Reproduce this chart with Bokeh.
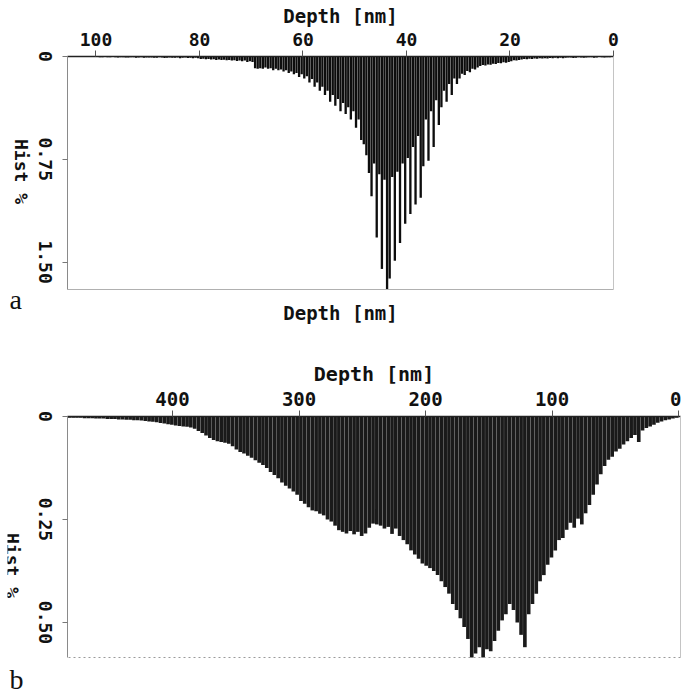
import math
from bokeh.plotting import figure
from bokeh.models import Range1d, FixedTicker, LinearAxis, Label
from bokeh.embed import file_html
from bokeh.resources import INLINE

# ---------------- data ----------------
x_title = "Depth [nm]"
y_title = "Hist %"

# panel a: histogram, 0.5 nm bins starting at 0 nm
a_bin_width = 0.5
a_depth_max = 105.5
a_hist_max = 1.70
a_hist = [
    # 0-10 nm
    0.004, 0.006, 0.005, 0.008, 0.006, 0.004, 0.007, 0.009, 0.006, 0.005,
    0.008, 0.010, 0.007, 0.006, 0.009, 0.011, 0.008, 0.007, 0.010, 0.012,
    # 10-20 nm
    0.010, 0.012, 0.009, 0.013, 0.011, 0.014, 0.012, 0.015, 0.013, 0.016,
    0.015, 0.018, 0.016, 0.020, 0.018, 0.022, 0.025, 0.030, 0.028, 0.035,
    # 20-30 nm
    0.040, 0.045, 0.042, 0.050, 0.048, 0.055, 0.052, 0.060, 0.058, 0.065,
    0.062, 0.070, 0.080, 0.095, 0.090, 0.115, 0.105, 0.135, 0.125, 0.160,
    # 30-40 nm
    0.200, 0.160, 0.280, 0.200, 0.330, 0.250, 0.370, 0.500, 0.320, 0.660,
    0.400, 0.760, 0.460, 0.800, 1.030, 0.580, 1.080, 0.660, 1.150, 0.740,
    # 40-50 nm
    1.220, 0.780, 1.360, 0.840, 1.490, 0.880, 1.620, 1.700, 0.900, 1.550,
    0.860, 1.320, 0.780, 1.020, 0.850, 0.720, 0.640, 0.610, 0.460, 0.520,
    # 50-60 nm
    0.400, 0.460, 0.370, 0.420, 0.340, 0.400, 0.310, 0.360, 0.280, 0.330,
    0.250, 0.280, 0.220, 0.250, 0.190, 0.220, 0.165, 0.190, 0.145, 0.160,
    # 60-70 nm
    0.130, 0.150, 0.120, 0.130, 0.110, 0.120, 0.100, 0.110, 0.095, 0.100,
    0.090, 0.100, 0.085, 0.090, 0.080, 0.090, 0.085, 0.090, 0.085, 0.040,
    # 70-80 nm
    0.035, 0.040, 0.030, 0.035, 0.030, 0.032, 0.028, 0.030, 0.025, 0.028,
    0.024, 0.026, 0.022, 0.025, 0.020, 0.022, 0.018, 0.020, 0.016, 0.018,
    # 80-90 nm
    0.012, 0.010, 0.013, 0.009, 0.011, 0.008, 0.010, 0.012, 0.008, 0.009,
    0.010, 0.007, 0.009, 0.011, 0.008, 0.006, 0.009, 0.010, 0.007, 0.008,
    # 90-105.5 nm
    0.007, 0.009, 0.006, 0.008, 0.010, 0.006, 0.005, 0.008, 0.007, 0.006,
    0.005, 0.007, 0.006, 0.004, 0.006, 0.005, 0.004, 0.006, 0.005, 0.004,
    0.003, 0.004, 0.003, 0.004, 0.003, 0.002, 0.003, 0.002, 0.002, 0.002,
    0.002,
]
a_xticks = [0, 20, 40, 60, 80, 100]
a_xtick_labels = ["0", "20", "40", "60", "80", "100"]
a_yticks = [0, 0.75, 1.5]
a_ytick_labels = ["0", "0.75", "1.50"]

# panel b: histogram, 3 nm bins starting at 0 nm
b_bin_width = 3.0
b_depth_max = 483.0
b_depth_min = -1.5
b_hist_max = 0.585
b_hist = [
    0.003, 0.005, 0.007, 0.009, 0.012, 0.015, 0.020, 0.024, 0.028, 0.034,
    0.062, 0.045, 0.052, 0.060, 0.068, 0.078, 0.085, 0.098, 0.105, 0.120,
    0.140, 0.165, 0.190, 0.215, 0.235, 0.262, 0.248, 0.270, 0.258, 0.275,
    0.295, 0.300, 0.325, 0.342, 0.360, 0.385, 0.400, 0.430, 0.455, 0.480,
    0.560, 0.530, 0.500, 0.470, 0.455, 0.480, 0.495, 0.520, 0.545, 0.570,
    0.565, 0.585, 0.560, 0.575, 0.585, 0.540, 0.511, 0.490, 0.470, 0.455,
    0.430, 0.414, 0.400, 0.385, 0.375, 0.368, 0.362, 0.357, 0.345, 0.335,
    0.325, 0.310, 0.300, 0.290, 0.272, 0.285, 0.268, 0.272, 0.265, 0.262,
    0.260, 0.270, 0.284, 0.290, 0.280, 0.286, 0.278, 0.284, 0.280, 0.276,
    0.265, 0.255, 0.250, 0.240, 0.236, 0.230, 0.228, 0.220, 0.212, 0.205,
    0.190, 0.182, 0.175, 0.168, 0.160, 0.150, 0.142, 0.135, 0.125, 0.118,
    0.112, 0.106, 0.100, 0.095, 0.090, 0.086, 0.080, 0.072, 0.066, 0.064,
    0.062, 0.060, 0.057, 0.052, 0.046, 0.040, 0.035, 0.030, 0.027, 0.025,
    0.024, 0.023, 0.022, 0.020, 0.019, 0.017, 0.016, 0.014, 0.013, 0.012,
    0.011, 0.010, 0.009, 0.009, 0.008, 0.008, 0.007, 0.007, 0.006, 0.006,
    0.006, 0.005, 0.005, 0.005, 0.004, 0.004, 0.004, 0.003, 0.003, 0.003,
    0.003,
]
b_xticks = [0, 100, 200, 300, 400]
b_xtick_labels = ["0", "100", "200", "300", "400"]
b_yticks = [0, 0.25, 0.5]
b_ytick_labels = ["0", "0.25", "0.50"]

MONO = "DejaVu Sans Mono"
SERIF = "Liberation Serif"
INK = "#111111"
W = 682


class Geo:
    """Pixel layout of one panel. The plotting frame covers nearly the whole
    figure; the histogram box (with its axes) sits inside it."""

    def __init__(self, height, frame_left, frame_top, frame_right, box_left,
                 box_right, box_top, box_bottom, x_hi, x_lo, y_hi):
        self.h = height
        self.fl, self.ft, self.fr = frame_left, frame_top, frame_right
        self.bl, self.br, self.bt, self.bb = box_left, box_right, box_top, box_bottom
        self.x_hi, self.x_lo, self.y_hi = x_hi, x_lo, y_hi
        self.sx = (box_right - box_left) / (x_hi - x_lo)   # px per nm
        self.sy = (box_bottom - box_top) / y_hi              # px per %

    def x(self, px):   # figure px -> depth (axis reversed)
        return self.x_hi + (self.bl - px) / self.sx

    def px(self, x):   # depth -> figure px
        return self.bl + (self.x_hi - x) * self.sx

    def y(self, py):   # figure px (top-down) -> hist % (axis inverted)
        return (py - self.bt) / self.sy


def text(p, x, y, s, size, angle=0.0, font=MONO, bold=True, align="center"):
    p.add_layout(Label(x=x, y=y, text=s, angle=angle, text_align=align,
                       text_baseline="middle", text_font=font,
                       text_font_style="bold" if bold else "normal",
                       text_font_size=size, text_color=INK))


def border_axis(**kw):
    return LinearAxis(ticker=FixedTicker(ticks=[]),
                      major_tick_out=0, major_tick_in=0,
                      minor_tick_out=0, minor_tick_in=0,
                      major_label_standoff=0, major_label_text_font_size="1px",
                      major_label_text_color=None, **kw)


def make_panel(g, hist, bin_w, xticks, xlabels, yticks, ylabels, bar_color,
               bar_frac, tick_fs, title_fs, tick_cy, title_cy, borders):
    p = figure(width=W, height=g.h,
               x_range=Range1d(g.x(g.fl), g.x(g.fr)),
               y_range=Range1d(g.y(g.h), g.y(g.ft)),
               x_axis_location="above", y_axis_location=None,
               output_backend="svg", toolbar_location=None,
               min_border_left=g.fl, min_border_right=W - g.fr,
               min_border_top=g.ft, min_border_bottom=0)
    p.xgrid.visible = False
    p.ygrid.visible = False
    p.background_fill_color = "white"
    p.border_fill_color = "white"
    p.outline_line_color = None

    centers = [bin_w * (i + 0.5) for i in range(len(hist))]
    p.vbar(x=centers, top=hist, bottom=0, width=bin_w * bar_frac,
           fill_color=bar_color, line_color=None)

    # top (depth) axis, drawn at hist = 0
    xa = p.xaxis[0]
    xa.fixed_location = 0
    xa.ticker = FixedTicker(ticks=xticks)
    xa.bounds = (g.x_lo, g.x_hi)
    xa.major_label_text_color = None
    xa.major_label_text_font_size = "1px"
    xa.major_label_standoff = 0
    xa.major_tick_out = 6
    xa.major_tick_in = 0
    xa.minor_tick_line_color = None
    xa.minor_tick_out = 0
    xa.axis_line_color = "#222222"
    xa.axis_line_width = 1.5
    xa.major_tick_line_color = "#555555"
    fs = float(tick_fs.replace("px", ""))
    for t, s in zip(xticks, xlabels):
        half = len(s) * 0.602 * fs / 2
        if g.px(t) + half > W - 1:   # keep the edge label inside the page
            text(p, g.x(W - 1), g.y(tick_cy), s, tick_fs, align="right")
        else:
            text(p, t, g.y(tick_cy), s, tick_fs)
    text(p, g.x((g.bl + g.br) / 2), g.y(title_cy), x_title, title_fs)

    # left (hist) axis at the box edge
    ya = LinearAxis(fixed_location=g.x_hi, bounds=(0, g.y_hi),
                    ticker=FixedTicker(ticks=yticks),
                    major_tick_out=5, major_tick_in=0,
                    minor_tick_out=0, minor_tick_in=0,
                    major_label_text_font_size="1px",
                    major_label_text_color=None,
                    major_label_standoff=0,
                    axis_line_color="#8a8a8a",
                    major_tick_line_color="#777777",
                    minor_tick_line_color=None)
    p.add_layout(ya, "left")
    for t, s in zip(yticks, ylabels):
        text(p, g.x(g.bl - 22), t, s, "18px", angle=-math.pi / 2)

    # right and bottom borders of the box
    p.add_layout(border_axis(fixed_location=g.x_lo, bounds=(0, g.y_hi),
                             axis_line_color=borders[0],
                             axis_line_dash=borders[1]), "right")
    p.add_layout(border_axis(fixed_location=g.y_hi, bounds=(g.x_lo, g.x_hi),
                             axis_line_color=borders[2],
                             axis_line_dash=borders[3]), "below")
    return p


# ---------- panel a ----------
ga = Geo(height=330, frame_left=7, frame_top=6, frame_right=640,
         box_left=67, box_right=613, box_top=56, box_bottom=289,
         x_hi=a_depth_max, x_lo=0, y_hi=a_hist_max)
pa = make_panel(ga, a_hist, a_bin_width, a_xticks, a_xtick_labels, a_yticks,
                a_ytick_labels, "#0d0d0d", 0.9, "18px", "19px", 38.5, 15.5,
                ("#c4c4c4", "solid", "#b0b0b0", "solid"))
text(pa, ga.x(21), ga.y(171), y_title, "18px", angle=-math.pi / 2)
text(pa, ga.x((ga.bl + ga.br) / 2), ga.y(312), x_title, "19px")
text(pa, ga.x(9), ga.y(299), "a", "28px", font=SERIF, bold=False,
     align="left")

# ---------- panel b ----------
gb = Geo(height=364, frame_left=7, frame_top=6, frame_right=682,
         box_left=67, box_right=680, box_top=86, box_bottom=327,
         x_hi=b_depth_max, x_lo=b_depth_min, y_hi=b_hist_max)
pb = make_panel(gb, b_hist, b_bin_width, b_xticks, b_xtick_labels, b_yticks,
                b_ytick_labels, "#1a1a1a", 0.96, "19px", "20px", 68.5, 43.5,
                ("#c4c4c4", "solid", "#9a9a9a", "2 3"))
text(pb, gb.x(12), gb.y(235), y_title, "18px", angle=-math.pi / 2)
text(pb, gb.x(9), gb.y(349), "b", "28px", font=SERIF, bold=False,
     align="left")

open("out.html", "w").write(file_html([pa, pb], INLINE))
